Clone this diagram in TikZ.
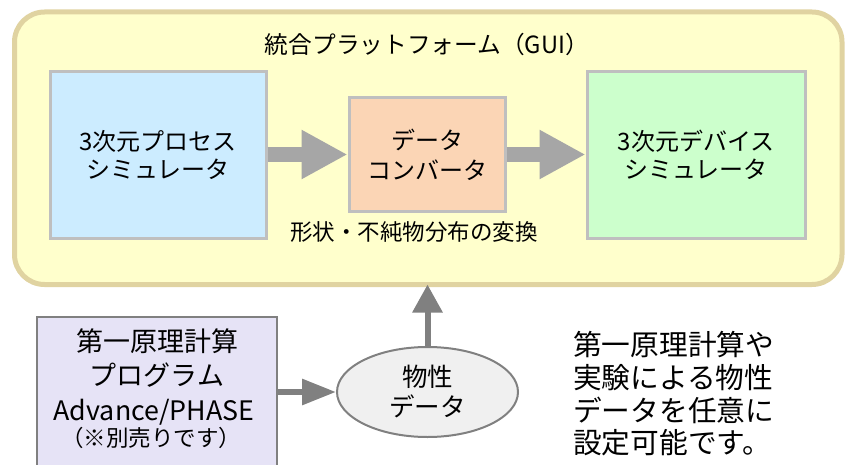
\documentclass[tikz,border=0pt]{standalone}
\usepackage{fontspec}
\setmainfont{Noto Sans CJK JP}
\usetikzlibrary{arrows.meta,shapes.geometric,calc}
\definecolor{outerfill}{HTML}{FFFFCC}
\definecolor{outerdraw}{HTML}{E0D3A1}
\definecolor{boxdraw}{HTML}{BFBFBF}
\definecolor{bluefill}{HTML}{CCECFF}
\definecolor{orangefill}{HTML}{FBD5B5}
\definecolor{greenfill}{HTML}{CCFFCC}
\definecolor{lavfill}{HTML}{E6E3F6}
\definecolor{ellfill}{HTML}{F0F0F0}
\definecolor{darkgray}{HTML}{808080}
\definecolor{lightarrow}{HTML}{A6A6A6}
\tikzset{
  topbox/.style={draw=boxdraw, line width=3pt, inner sep=0pt, align=center,
    font=\fontsize{24}{28}\selectfont},
  bigarrow/.style={lightarrow, line width=15pt, -{Triangle[length=46pt,width=46pt]}},
  thinarrow/.style={darkgray, line width=6pt},
  txt/.style={inner sep=0pt, text height=0.88em, text depth=0.12em}
}
\begin{document}
\begin{tikzpicture}[x=1pt,y=-1pt]
\useasboundingbox (0,0) rectangle (848,465);
% outer platform
\node[draw=outerdraw, fill=outerfill, line width=5pt, rounded corners=30pt,
      minimum width=827.5pt, minimum height=272.5pt, inner sep=0pt] (outer) at (428.25,148.25) {};
\node[txt, font=\fontsize{23.7}{28}\selectfont] (title) at (427,49.5) {統合プラットフォーム（GUI）};
% three boxes
\node[topbox, fill=bluefill, minimum width=216pt, minimum height=166pt] (proc) at (158,155)
  {3次元プロセス\\シミュレータ};
\node[topbox, fill=orangefill, minimum width=156pt, minimum height=114pt,
      font=\fontsize{24}{30}\selectfont] (conv) at (427,154.5)
  {データ\\コンバータ};
\node[topbox, fill=greenfill, minimum width=218pt, minimum height=166pt] (dev) at (696,155)
  {3次元デバイス\\シミュレータ};
\node[txt, font=\fontsize{22.5}{28}\selectfont] (sub) at (414,237) {形状・不純物分布の変換};
% block arrows
\draw[bigarrow] (proc.east |- conv.west) -- (conv.west);
\draw[bigarrow] (conv.east) -- (conv.east -| dev.west);
% bottom program box
\node[draw=darkgray, fill=lavfill, line width=2pt, minimum width=240pt, minimum height=163pt,
      inner sep=0pt] (prog) at (157,398.5) {};
\node[txt, font=\fontsize{27}{34}\selectfont] (p1) at (157,348) {第一原理計算};
\node[txt, font=\fontsize{27}{34}\selectfont] (p2) at (157,382) {プログラム};
\node[txt, font=\fontsize{26.8}{30}\selectfont] (p3) at (154,417) {Advance/PHASE};
\node[txt, font=\fontsize{22.5}{26}\selectfont] (p4) at (151,443) {（※別売りです）};
% ellipse
\node[ellipse, draw=darkgray, fill=ellfill, line width=2pt, minimum width=181pt,
      minimum height=90pt, inner sep=0pt, align=center,
      font=\fontsize{25.5}{30}\selectfont] (ell) at (427.5,392) {物性\\データ};
% thin arrows
\draw[thinarrow, -{Triangle[length=34pt,width=25pt]}] (prog.east |- ell.west) -- (ell.west);
\draw[thinarrow, -{Triangle[length=28pt,width=29pt]}, shorten >=-2.5pt] (ell.north) -- (ell.north |- outer.south);
% note
\node[inner sep=0pt, anchor=west, align=left, font=\fontsize{28.7}{32.7}\selectfont] (note) at (573,394)
  {第一原理計算や\\実験による物性\\データを任意に\\設定可能です。};
\end{tikzpicture}
\end{document}
